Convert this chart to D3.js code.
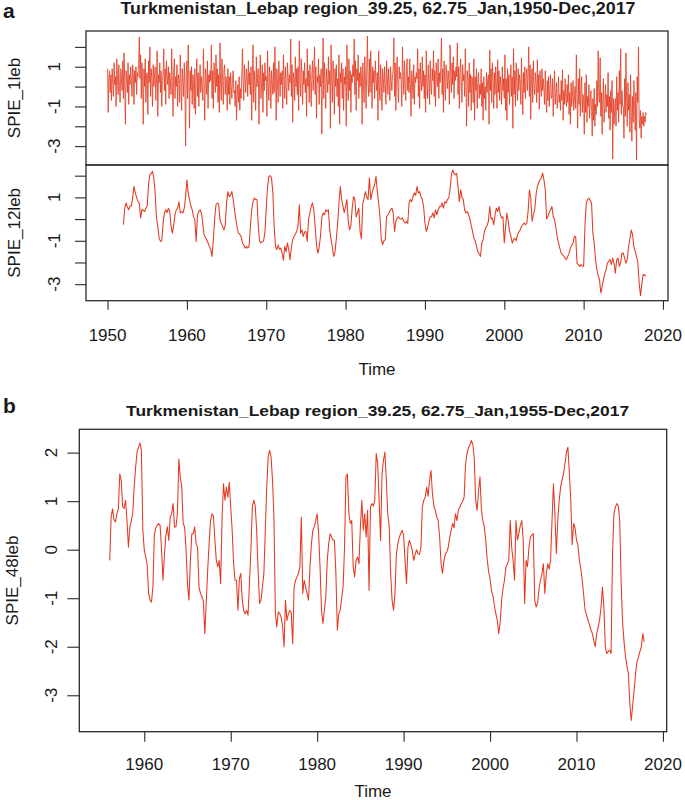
<!DOCTYPE html>
<html><head><meta charset="utf-8">
<script src="https://cdn.jsdelivr.net/npm/d3@7"></script>
<style>
body{margin:0;background:#fff}
svg{display:block}
text{font-family:"Liberation Sans",Arial,sans-serif;fill:#1a1a1a}
</style>
</head><body>
<svg id="chart" width="685" height="800"></svg>
<script>
// ---------------- DATA ----------------
const titleA = "Turkmenistan_Lebap region_39.25, 62.75_Jan,1950-Dec,2017";
const titleB = "Turkmenistan_Lebap region_39.25, 62.75_Jan,1955-Dec,2017";
const seriesNames = ["SPIE_1leb", "SPIE_12leb", "SPIE_48leb"];
const timeSpanA = [1950, 2017 + 11/12];
const timeSpanB = [1955, 2017 + 11/12];
const xTicksA = [1950, 1960, 1970, 1980, 1990, 2000, 2010, 2020];
const xTicksB = [1960, 1970, 1980, 1990, 2000, 2010, 2020];
const yTicks = [-3, -2, -1, 0, 1, 2];
const yLabelsA = [1, -1, -3];
const yLabelsB = [2, 1, 0, -1, -2, -3];

// SPIE_1 : monthly, Jan 1950 - Dec 2017
const spie1Start = 1950, spie1Freq = 12;
const spie1 = [
 0.9,-1.3,0.4,0.8,-0.3,0.6,-0.7,0.9,0.2,-0.5,1.2,0.1,
 0.5,-1.0,1.4,0.3,-0.4,1.1,0.0,-0.8,0.9,0.4,-0.2,1.3,
 -0.6,1.7,0.2,-1.9,0.8,0.4,-0.3,1.2,-0.9,0.6,0.1,1.0,
 0.3,-0.5,1.1,0.6,-0.9,0.8,0.2,1.0,-0.4,0.7,0.5,1.1,
 2.5,0.4,1.6,-0.6,1.2,0.3,-1.9,0.9,0.0,1.4,-0.8,0.6,
 0.7,-1.4,1.3,0.2,2.0,-0.5,0.9,0.4,-1.0,1.1,0.0,0.5,
 1.0,-0.7,0.4,1.8,-1.5,0.6,0.2,1.2,-0.3,0.8,-1.0,0.3,
 0.6,1.9,-0.2,0.9,-0.9,1.3,0.5,0.1,1.0,-0.6,0.7,0.3,
 -0.4,1.9,0.2,-1.5,0.8,1.4,-0.6,0.5,0.0,1.1,-1.0,0.6,
 0.4,-0.8,1.6,0.2,-1.2,0.9,0.3,-0.5,1.2,0.1,-3.0,0.7,
 1.3,-0.6,2.1,0.4,-2.1,0.8,-0.2,1.0,-0.9,0.6,0.2,-1.1,
 0.9,-1.4,0.3,1.4,-0.5,0.7,-1.0,0.2,1.1,-0.3,0.5,0.0,
 -0.7,1.9,0.1,-1.7,0.9,0.4,-0.4,1.3,-1.1,0.6,0.2,0.8,
 0.3,2.1,-0.6,0.8,-1.1,1.2,0.5,-0.3,1.6,0.0,0.9,-0.8,
 0.6,-1.3,2.2,0.1,-0.7,1.4,0.3,-0.9,0.8,1.1,-0.4,0.5,
 0.2,-1.2,0.9,-0.4,0.5,-0.9,0.7,0.0,-0.6,0.4,0.8,-0.3,
 -0.2,-1.0,0.3,-1.7,-0.4,0.1,-0.8,0.5,-1.2,-0.1,-0.6,0.6,
 1.9,0.2,-0.7,1.1,0.4,-0.3,0.9,0.6,-0.5,1.3,0.1,0.7,
 -0.4,1.0,-1.7,0.5,2.1,-0.8,0.8,0.2,-1.2,1.5,0.0,0.6,
 0.9,-1.9,0.4,1.6,-0.6,0.2,1.1,-1.3,0.7,-0.2,1.2,0.3,
 0.5,-1.5,1.8,0.1,-0.7,1.0,0.4,-1.1,0.8,0.2,-0.4,1.2,
 -0.3,2.0,0.6,-1.7,0.9,0.2,-0.8,1.3,0.4,-0.5,0.7,0.1,
 0.8,-1.1,1.6,0.3,-0.6,1.0,0.0,-0.9,1.2,0.5,-0.2,0.6,
 0.2,2.4,-0.5,1.1,-1.8,0.7,0.4,-0.7,1.5,0.0,0.9,-0.4,
 1.0,-1.2,2.3,0.3,-0.5,1.4,0.6,-0.9,0.8,0.1,1.2,-0.3,
 0.4,-1.5,1.9,0.0,0.8,-0.8,1.1,0.3,-1.0,0.6,1.3,-0.2,
 0.7,2.0,-0.4,1.0,-1.6,0.5,0.2,1.4,-0.9,0.6,0.0,0.9,
 -2.4,0.5,2.45,-0.6,1.2,0.2,-1.1,0.9,0.4,-0.3,1.5,0.1,
 0.8,-2.1,2.1,0.3,-0.8,1.3,0.5,-1.4,0.9,0.0,1.1,-0.5,
 0.4,-1.0,1.6,-1.9,0.7,0.2,1.2,-0.6,0.9,-1.2,0.5,0.1,
 1.0,-2.0,2.1,0.3,-0.7,1.4,-0.2,0.8,-1.3,0.6,0.2,1.1,
 0.5,2.4,-0.4,1.3,-1.2,0.9,0.3,1.6,-0.6,0.7,0.0,1.0,
 0.6,-1.9,1.2,0.2,-0.8,1.5,0.4,-1.1,0.9,2.55,0.1,-0.5,
 1.4,-0.3,1.8,0.5,-1.1,1.0,0.2,0.8,-0.6,1.3,0.4,-0.2,
 0.7,-1.7,1.8,0.0,-0.7,1.1,0.3,-1.2,0.9,0.4,-0.3,1.0,
 0.2,-0.9,1.3,0.5,-0.4,0.9,0.1,-0.7,1.0,0.3,-0.2,0.6,
 0.9,2.45,-0.5,1.2,-1.2,0.6,1.5,0.0,-0.8,1.0,0.4,0.7,
 0.3,-1.0,2.0,0.6,-0.4,1.3,0.2,-0.7,0.9,1.4,-0.2,0.5,
 -0.3,1.4,0.1,-1.5,0.8,0.3,-0.6,1.1,-0.9,0.5,0.2,0.7,
 0.4,1.9,-0.5,0.9,-1.1,1.2,0.3,-0.2,1.5,0.0,0.8,-0.6,
 0.6,-1.3,1.8,0.2,-0.6,1.1,0.4,-0.9,1.3,0.1,-0.4,0.9,
 0.3,1.8,-0.5,0.8,-1.0,1.2,0.5,0.0,1.4,-0.6,0.7,0.2,
 1.0,2.45,-0.4,0.9,-1.3,1.3,0.2,-0.7,1.1,0.5,-0.1,0.8,
 0.4,-0.9,2.1,0.6,-0.3,1.2,0.1,1.5,-0.6,0.8,0.3,1.0,
 0.5,2.2,-0.4,1.0,-1.1,0.7,1.4,0.0,-0.8,1.1,0.3,0.6,
 -0.5,1.9,0.2,-2.0,0.8,0.4,-1.0,1.2,-0.3,0.6,-1.2,0.5,
 0.3,-0.8,1.4,-1.7,0.5,-0.2,0.9,-1.1,0.2,0.7,-0.6,0.1,
 -0.4,0.9,-1.0,0.2,-1.7,0.5,-0.6,0.0,-1.2,0.7,-0.3,0.4,
 0.6,-1.9,1.85,-0.2,0.9,-0.8,1.2,0.3,-1.1,0.7,-0.4,1.0,
 0.2,-1.1,1.35,-0.3,0.8,-0.7,0.5,0.0,-0.9,1.0,-0.2,0.4,
 -0.6,1.6,-1.2,0.4,-1.7,0.9,-0.3,0.6,-0.9,0.2,1.1,-0.5,
 0.5,-2.1,1.9,-0.4,0.8,-1.0,1.2,0.1,-0.7,0.9,-0.2,0.6,
 0.3,-0.9,1.45,0.0,-1.4,0.7,-0.3,1.0,-0.6,0.4,0.9,-0.2,
 0.6,2.0,-0.5,1.1,-1.65,0.4,0.9,-0.8,1.3,0.0,-0.4,0.7,
 0.2,-0.8,1.35,-0.3,0.6,-1.15,0.8,0.1,-0.5,0.9,-0.2,0.4,
 -0.2,-0.9,0.8,-0.5,-1.3,0.3,-0.7,0.5,-1.0,-0.1,0.6,-0.6,
 -0.5,0.4,-1.5,-0.2,0.8,-0.9,-0.3,0.2,-1.1,-0.6,0.5,-0.8,
 -0.4,-1.2,0.3,-0.7,0.85,-1.7,-0.2,-0.9,0.4,-0.6,-1.0,0.1,
 -0.8,0.6,-1.4,-0.3,-1.9,0.2,-1.0,-0.5,0.3,-1.2,-0.7,0.0,
 -1.1,1.6,-0.6,-2.1,0.4,-0.9,0.9,-1.5,-0.2,0.5,-1.3,-0.4,
 -0.7,-2.4,0.2,-1.3,0.6,-1.8,-0.5,-1.0,0.1,-1.6,-0.8,-0.2,
 -1.2,-2.5,-0.6,-1.7,-0.1,-2.0,-0.9,-1.4,0.3,-1.0,1.8,-0.5,
 -0.8,1.45,-1.5,-0.3,-2.4,-0.6,0.4,-1.8,-0.9,0.1,-1.3,-0.4,
 -1.0,0.7,-1.6,-0.5,-2.2,-0.2,-1.3,0.3,-3.65,-0.6,-1.9,-1.1,
 -0.6,-2.0,0.5,-1.2,-0.3,-1.8,0.8,-0.9,1.9,-1.4,-0.2,-1.0,
 -1.0,-2.6,0.4,-1.5,1.7,-0.7,-2.0,0.2,-1.2,-0.4,-2.3,0.6,
 -1.3,-2.75,-0.5,-1.8,0.3,-1.0,-2.2,-0.3,-3.7,0.5,-0.8,2.0,
 -1.6,-2.1,-1.2,-2.6,-1.5,-1.9,-1.3,-2.0,-1.5,-1.8,-1.3,-1.4
];

// SPIE_12 : sampled every 2 months, from Jan 1952
const spie12Start = 1952, spie12Freq = 6;
const spie12 = [
 -0.26,0.5,0.74,0.55,0.43,0.6,
 0.6,1.0,1.5,1.2,1.0,0.8,
 0.74,0.05,0.45,0.4,0.35,0.5,
 0.6,1.6,2.05,2.1,2.2,1.9,
 1.2,0.05,-0.34,-0.88,-1.03,-1.0,
 -0.2,0.28,0.43,0.3,0.5,0.35,
 -0.34,-0.65,-0.3,0.2,0.43,0.5,
 0.8,0.28,0.35,0.28,0.5,1.0,
 1.8,1.2,0.9,0.6,0.43,0.1,
 -0.03,-1.03,0.2,0.35,0.43,0.28,
 -0.2,-0.72,-0.85,-0.95,-1.1,-1.26,
 -1.4,-1.72,-0.95,0.0,0.66,0.74,
 0.7,-0.03,-0.2,-0.34,-0.5,-0.3,
 0.74,1.27,1.04,1.1,1.27,0.9,
 0.43,0.0,-0.4,-0.65,-0.7,-0.8,
 -1.1,-1.2,-1.34,-1.25,-1.34,-1.26,
 -0.34,0.43,0.8,0.97,0.9,0.9,
 -0.34,-1.03,-1.1,-1.05,-1.0,-0.6,
 0.5,1.5,1.97,2.0,1.9,1.2,
 -0.34,-1.26,-1.4,-1.2,-1.4,-1.34,
 -1.57,-1.9,-1.26,-1.5,-1.1,-1.4,
 -1.87,-1.3,-0.95,-0.8,-0.7,-0.57,
 -0.34,0.66,-0.65,-0.5,-0.8,-0.6,
 -0.57,-1.03,0.0,0.28,0.58,0.74,
 0.4,-0.34,-1.18,-1.57,-1.3,-0.8,
 0.05,0.28,0.2,0.43,0.35,0.43,
 -0.5,-0.95,-1.3,-1.72,-1.5,-0.9,
 -0.2,0.74,1.5,0.9,0.6,0.3,
 0.58,0.9,-0.1,-0.5,-0.3,0.5,
 1.04,0.9,0.1,0.28,0.5,-0.6,
 -0.9,0.74,0.97,1.27,1.0,0.9,
 1.9,0.9,1.2,1.43,1.6,1.97,
 1.27,0.74,0.12,-0.95,-1.18,-1.0,
 -0.95,0.12,0.2,0.3,0.43,0.5,
 0.28,-0.57,-0.1,0.05,0.1,0.0,
 0.0,0.05,-0.1,-0.18,-0.1,-0.2,
 0.74,0.9,0.8,1.04,1.2,1.1,
 1.5,1.2,1.27,1.04,0.9,0.58,
 -0.18,-0.57,-0.4,-0.1,0.1,0.12,
 0.28,0.05,0.43,0.2,0.4,0.58,
 0.58,0.74,0.5,0.8,0.74,0.9,
 0.97,1.35,2.04,2.26,2.1,2.04,
 2.1,1.5,0.8,1.35,1.0,0.9,
 0.43,0.28,0.35,0.2,0.0,-0.3,
 -0.57,-0.88,-1.0,-1.26,-1.5,-1.6,
 -1.72,-1.1,-0.95,-0.57,-0.4,-0.3,
 -0.1,0.58,0.0,0.05,-0.26,0.2,
 0.5,0.35,0.58,0.2,0.05,0.1,
 -1.1,-0.34,0.28,-0.1,-0.57,-0.8,
 -1.1,-0.95,-0.88,-1.0,-0.72,-0.6,
 -0.5,-0.34,-0.26,-0.18,-0.26,-0.2,
 0.35,1.35,0.97,-0.1,0.2,0.43,
 1.12,1.5,1.66,1.81,1.9,2.12,
 1.81,1.35,0.0,0.12,0.3,0.43,
 0.58,0.12,0.0,-0.4,-0.8,-1.1,
 -1.34,-1.57,-1.64,-1.7,-1.8,-1.87,
 -1.72,-1.57,-1.34,-1.2,-1.1,-0.8,
 -0.8,-2.03,-2.1,-2.18,-2.1,-2.15,
 -2.18,-0.34,0.74,0.9,0.97,0.85,
 0.74,-0.65,-1.1,-1.87,-2.33,-2.6,
 -2.8,-3.41,-3.1,-2.8,-2.5,-2.33,
 -2.03,-1.95,-1.87,-2.1,-1.8,-2.03,
 -2.5,-1.87,-1.8,-2.18,-2.0,-1.57,
 -1.57,-1.8,-2.03,-1.87,-1.26,-0.9,
 -0.5,-0.72,-1.26,-1.5,-1.72,-2.0,
 -2.95,-3.53,-3.0,-2.56,-2.56,-2.64
];

// SPIE_48 : sampled every 2 months, from Jan 1956
const spie48Start = 1956, spie48Freq = 6;
const spie48 = [
 -0.22,0.67,0.84,0.62,0.57,0.75,
 0.84,1.56,1.43,0.88,0.85,1.02,
 0.6,0.05,0.47,0.6,0.75,1.29,
 1.7,2.01,2.11,2.2,2.05,0.4,
 -0.01,-0.15,-0.3,-0.9,-1.04,-1.08,
 -0.77,0.3,0.45,0.5,0.54,0.5,
 -0.01,-0.63,-0.1,0.3,0.47,0.19,
 0.67,0.74,0.95,0.47,0.47,0.74,
 1.87,1.5,1.29,0.54,0.47,-0.01,
 -0.7,-1.04,-0.22,0.33,0.33,0.47,
 0.12,0.05,-0.77,-0.9,-0.97,-1.05,
 -1.73,-1.1,-0.43,0.12,0.6,0.74,
 0.7,0.2,-0.22,-0.35,-0.22,-0.7,
 0.67,1.36,1.02,1.29,1.08,1.39,
 0.88,0.4,-0.29,-0.63,-0.63,-1.25,
 -0.6,-0.49,-1.04,-1.25,-1.32,-1.25,
 -1.35,-0.7,-0.01,0.88,1.02,0.91,
 0.4,-0.43,-1.11,-1.04,-0.77,-0.5,
 0.4,1.29,1.91,2.05,1.91,1.43,
 0.67,-1.32,-1.59,-1.28,-1.32,-1.39,
 -1.59,-2.0,-1.04,-1.46,-1.32,-1.25,
 -1.3,-1.94,-0.77,-0.63,-0.56,-0.49,
 -0.36,0.67,-0.9,-0.63,-0.77,-0.9,
 -1.04,-0.36,0.12,0.4,0.47,0.6,
 0.74,0.33,-0.36,-1.25,-1.52,-1.25,
 -0.97,-0.22,0.12,0.33,0.26,0.2,
 0.19,-0.5,-1.66,-1.32,-1.25,-1.0,
 -0.77,0.05,1.5,1.56,0.74,0.54,
 0.6,-0.36,-0.56,-0.22,-0.15,-0.29,
 0.47,1.02,0.4,0.74,0.26,0.81,
 -0.84,0.88,0.95,0.9,1.02,1.98,
 1.77,1.02,0.19,1.56,1.84,2.01,
 1.43,0.74,0.47,-0.49,-1.04,-1.25,
 -0.9,-0.08,0.12,0.26,0.33,0.4,
 0.3,-0.22,-0.7,0.05,0.19,0.1,
 -0.01,-0.22,-0.1,0.0,-0.08,-0.1,
 0.05,0.88,1.02,1.08,1.29,1.1,
 1.43,1.63,1.15,0.9,0.81,0.67,
 0.6,0.26,-0.29,-0.49,-0.22,-0.08,
 -0.05,0.05,0.26,0.4,0.54,0.45,
 0.74,0.6,0.81,0.88,0.95,1.0,
 1.08,1.77,1.98,2.1,2.15,2.25,
 2.18,1.9,1.02,0.81,1.2,1.5,
 0.81,0.6,0.47,0.2,-0.2,-0.45,
 -0.6,-0.85,-0.95,-1.15,-1.32,-1.45,
 -1.73,-1.5,-1.04,-0.8,-0.63,-0.36,
 -0.3,-0.22,0.6,0.05,-0.22,-0.63,
 0.6,0.2,0.33,0.5,0.6,0.2,
 -1.11,-0.22,-0.35,0.05,0.26,0.3,
 0.33,-1.04,-1.18,-1.1,-0.8,-0.63,
 -0.5,-0.29,-0.9,-0.5,-0.29,-0.4,
 -0.22,0.6,1.36,0.74,-0.08,0.6,
 1.02,1.3,1.45,1.56,1.77,2.0,
 2.11,1.6,1.02,0.1,0.54,0.45,
 0.19,0.1,-0.22,-0.4,-0.63,-0.95,
 -1.25,-1.35,-1.46,-1.55,-1.65,-1.73,
 -1.87,-2.0,-1.73,-1.6,-1.45,-1.2,
 -0.77,-1.18,-2.0,-2.14,-2.1,-2.07,
 -2.14,-0.08,0.74,0.88,0.95,0.9,
 0.6,-0.7,-1.5,-1.9,-2.2,-2.4,
 -2.55,-3.17,-3.52,-3.2,-2.9,-2.55,
 -2.3,-2.21,-2.1,-2.0,-1.73,-1.9
];

// ---------------- DRAWING ----------------
const svg = d3.select("#chart");
const lineColor = "#e4381f";
const frameColor = "#2b2b2b";
const fontSize = 17;

function toPoints(values, start, freq) {
  return values.map((v, i) => ({ t: start + i / freq, v: v }));
}
function padExtent(ext) { // R-style 4% axis expansion
  const d = ext[1] - ext[0];
  return [ext[0] - 0.04 * d, ext[1] + 0.04 * d];
}

const layout = {
  a: { left: 86, right: 668 },
  b: { left: 79.3, right: 666.7 }
};

function drawPanel(opts) {
  const { x, top, bottom, left, right, data, start, freq, labels, name,
          labelX, titleX, tickLen, lw, color } = opts;
  const y = d3.scaleLinear().domain(padExtent(d3.extent(data))).range([bottom, top]);
  const pts = toPoints(data, start, freq);
  const g = svg.append("g");
  g.append("path").datum(pts)
    .attr("fill", "none").attr("stroke", color).attr("stroke-width", lw)
    .attr("stroke-linejoin", "round")
    .attr("d", d3.line().x(d => x(d.t)).y(d => y(d.v)));
  const ax = g.append("g").attr("transform", `translate(${left},0)`)
    .call(d3.axisLeft(y).tickValues(yTicks).tickSize(tickLen).tickFormat(""));
  ax.select(".domain").remove();
  ax.selectAll("line").attr("stroke", frameColor).attr("stroke-width", 1.1);
  g.selectAll("text.ylab").data(labels).join("text")
    .attr("class", "ylab")
    .attr("transform", d => `translate(${labelX},${y(d)}) rotate(-90)`)
    .attr("text-anchor", "middle").attr("font-size", fontSize)
    .text(d => d);
  svg.append("text")
    .attr("transform", `translate(${titleX},${(top + bottom) / 2}) rotate(-90)`)
    .attr("text-anchor", "middle").attr("font-size", fontSize)
    .text(name);
  g.append("rect").attr("x", left).attr("y", top)
    .attr("width", right - left).attr("height", bottom - top)
    .attr("fill", "none").attr("stroke", frameColor).attr("stroke-width", 1.3);
  return y;
}

// ---- Panel a ----
const xA = d3.scaleLinear().domain(padExtent(timeSpanA)).range([layout.a.left, layout.a.right]);
drawPanel({ x: xA, top: 31, bottom: 165, left: layout.a.left, right: layout.a.right,
  data: spie1, start: spie1Start, freq: spie1Freq, labels: yLabelsA, name: seriesNames[0],
  labelX: 59.5, titleX: 19.5, tickLen: 11, lw: 0.8, color: "#e2391e" });
drawPanel({ x: xA, top: 165, bottom: 300.7, left: layout.a.left, right: layout.a.right,
  data: spie12, start: spie12Start, freq: spie12Freq, labels: yLabelsA, name: seriesNames[1],
  labelX: 59.5, titleX: 19.5, tickLen: 11, lw: 1.05, color: lineColor });

const axA = svg.append("g").attr("transform", "translate(0,300.7)")
  .call(d3.axisBottom(xA).tickValues(xTicksA).tickSize(9).tickFormat(""));
axA.select(".domain").remove();
axA.selectAll("line").attr("stroke", frameColor).attr("stroke-width", 1.1);
svg.append("g").selectAll("text").data(xTicksA).join("text")
  .attr("x", d => xA(d)).attr("y", 341).attr("text-anchor", "middle")
  .attr("font-size", fontSize).text(d => d);
svg.append("text").attr("x", (layout.a.left + layout.a.right) / 2).attr("y", 375)
  .attr("text-anchor", "middle").attr("font-size", fontSize).text("Time");
svg.append("text").attr("x", 378).attr("y", 14).attr("text-anchor", "middle")
  .attr("font-size", 16).attr("font-weight", "bold")
  .attr("textLength", 515).attr("lengthAdjust", "spacingAndGlyphs").text(titleA);
svg.append("text").attr("x", 3).attr("y", 18).attr("font-size", 21)
  .attr("font-weight", "bold").text("a");

// ---- Panel b ----
const xB = d3.scaleLinear().domain(padExtent(timeSpanB)).range([layout.b.left, layout.b.right]);
drawPanel({ x: xB, top: 429.3, bottom: 731.7, left: layout.b.left, right: layout.b.right,
  data: spie48, start: spie48Start, freq: spie48Freq, labels: yLabelsB, name: seriesNames[2],
  labelX: 56.5, titleX: 17.5, tickLen: 12, lw: 1.05, color: lineColor });
const axB = svg.append("g").attr("transform", "translate(0,731.7)")
  .call(d3.axisBottom(xB).tickValues(xTicksB).tickSize(10).tickFormat(""));
axB.select(".domain").remove();
axB.selectAll("line").attr("stroke", frameColor).attr("stroke-width", 1.1);
svg.append("g").selectAll("text").data(xTicksB).join("text")
  .attr("x", d => xB(d)).attr("y", 770).attr("text-anchor", "middle")
  .attr("font-size", fontSize).text(d => d);
svg.append("text").attr("x", (layout.b.left + layout.b.right) / 2).attr("y", 797)
  .attr("text-anchor", "middle").attr("font-size", fontSize).text("Time");
svg.append("text").attr("x", 377.6).attr("y", 416).attr("text-anchor", "middle")
  .attr("font-size", 15.5).attr("font-weight", "bold")
  .attr("textLength", 503).attr("lengthAdjust", "spacingAndGlyphs").text(titleB);
svg.append("text").attr("x", 3).attr("y", 413).attr("font-size", 21)
  .attr("font-weight", "bold").text("b");
</script>
</body></html>
